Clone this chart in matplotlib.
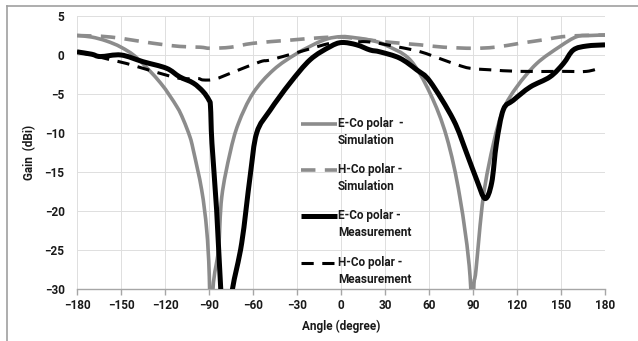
import matplotlib
matplotlib.use("Agg")
import numpy as np
import matplotlib.pyplot as plt
from matplotlib.lines import Line2D
from matplotlib.path import Path
from matplotlib.patches import PathPatch

plt.rcParams["font.family"] = ["Roboto", "DejaVu Sans"]

INK = "#1a1a1a"
GRAY = "#8c8c8c"
GRID = "#dedede"
AXIS = "#a6a6a6"

# E-plane co-polar, simulated
e_sim_angle = [-180, -170, -160, -150, -139, -123, -112, -107.5, -103, -100.7, -95, -91.6,
               -89.8, -88.5, -87.3, -83.6, -81.3, -75.7, -70, -60, -46, -30, -12, 0,
               10, 20, 30, 47, 60.7, 72, 81, 88, 89.5, 90.5, 92, 97, 104, 110.7, 119.8,
               133.4, 149.3, 160.7, 170, 180]
e_sim_gain = [2.5, 2.3, 1.8, 1.0, -0.4, -3.6, -6.6, -8.3, -10.5, -12.2, -17.3, -22.4,
              -28.4, -40, -30, -25, -18.2, -12.6, -8.8, -4.9, -1.9, 0.2, 1.9, 2.35,
              2.2, 1.9, 1.3, -0.6, -4.9, -10.5, -18.2, -28.4, -40, -30, -27.6, -18.2, -11.3, -7,
              -4.1, -1.1, 1.1, 2.35, 2.5, 2.56]

# H-plane co-polar, simulated
h_sim_angle = [-180, -157, -128, -110, -96, -89, -75, -60, -35, -15, 0,
               20, 35, 54, 70, 90, 105, 122, 140, 151, 165, 180]
h_sim_gain = [2.5, 2.3, 1.5, 1.1, 1.0, 0.86, 1.0, 1.5, 1.9, 2.2, 2.3,
              1.9, 1.6, 1.3, 1.0, 0.86, 1.0, 1.5, 2.0, 2.35, 2.5, 2.56]

# E-plane co-polar, measured
e_meas_angle = [-180, -170, -164, -150, -135, -119, -110, -100.7, -94, -90, -89, -88,
                -84.8, -82, -80, -76, -74, -67.7, -62, -57.5, -48.4, -34.8, -21, -7.5,
                0.5, 10.7, 19.8, 26.6, 40, 51.6, 60.7, 76.6, 85.7, 92.5, 98.2, 102.7,
                106, 110.7, 117.5, 129, 142.5, 151.6, 158.4, 167.5, 180]
e_meas_gain = [0.4, 0.1, -0.2, 0, -0.86, -1.7, -2.8, -3.6, -4.7, -5.8, -6.6, -11.3,
               -19.9, -30, -34, -34, -30, -24.1, -15.6, -10, -7.1, -3.6, -0.6, 1.06,
               1.6, 1.3, 0.64, 0.4, -0.4, -1.9, -3.4, -8.3, -12.6, -16, -18.4, -16.4,
               -11.3, -7, -5.8, -4.1, -2.8, -1.1, 0.64, 1.15, 1.3]

# H-plane co-polar, measured
h_meas_angle = [-180, -168, -157.5, -146, -128, -110, -98, -94, -86, -73.5, -55, -48.4,
                -28, -7.5, 0, 17.5, 38, 54, 70, 80, 88, 101.6, 122, 151.6, 167.5, 177.7]
h_meas_gain = [0.4, -0.1, -0.6, -1.1, -2.1, -3.0, -3.0, -3.2, -3.1, -2.2, -0.86, -0.64,
               0.42, 1.5, 1.5, 1.7, 1.06, 0.42, -0.64, -1.3, -1.7, -1.9, -2.1, -2.1, -2.1, -1.6]

x_ticks = list(range(-180, 181, 30))
y_ticks = list(range(-30, 6, 5))

series = [
    ("E-Co polar  -\nSimulation", e_sim_angle, e_sim_gain,
     dict(color=GRAY, lw=2.6, ls="-")),
    ("H-Co polar -\nSimulation", h_sim_angle, h_sim_gain,
     dict(color=GRAY, lw=2.6, ls=(0, (4.0, 2.6)))),
    ("E-Co polar -\nMeasurement", e_meas_angle, e_meas_gain,
     dict(color="black", lw=3.6, ls="-")),
    ("H-Co polar -\nMeasurement", h_meas_angle, h_meas_gain,
     dict(color="black", lw=2.2, ls=(0, (4.0, 2.8)))),
]


def smooth_path(xs, ys):
    """Catmull-Rom through the points, emitted as cubic Bezier segments."""
    p = np.column_stack([xs, ys]).astype(float)
    p = np.vstack([p[0], p, p[-1]])
    verts = [p[1]]
    codes = [Path.MOVETO]
    for i in range(1, len(p) - 2):
        c1 = p[i] + (p[i + 1] - p[i - 1]) / 6.0
        c2 = p[i + 1] - (p[i + 2] - p[i]) / 6.0
        verts += [c1, c2, p[i + 1]]
        codes += [Path.CURVE4] * 3
    return Path(verts, codes)


fig = plt.figure(figsize=(6.38, 3.41), dpi=100)
ax = fig.add_axes([0.1207, 0.1525, 0.8276, 0.8006])

for label, xs, ys, style in series:
    patch = PathPatch(smooth_path(xs, ys), fill=False, edgecolor=style["color"],
                      lw=style["lw"], ls=style["ls"], capstyle="butt", zorder=3)
    ax.add_patch(patch)

ax.set_xlim(-180, 180)
ax.set_ylim(-30, 5)
ax.set_xticks(x_ticks)
ax.set_yticks(y_ticks)
ax.grid(True, color=GRID, lw=0.7, zorder=0)
for side in ("top", "right", "left"):
    ax.spines[side].set_visible(False)
ax.spines["bottom"].set_color(AXIS)
ax.spines["bottom"].set_linewidth(1.0)
ax.tick_params(axis="x", direction="out", length=4, width=1.0, color=AXIS,
               labelsize=8.5, labelcolor=INK, pad=3)
ax.tick_params(axis="y", length=0, labelsize=8.5, labelcolor=INK, pad=9)
for t in ax.get_xticklabels() + ax.get_yticklabels():
    t.set_fontweight("bold")
ax.set_xlabel("Angle (degree)", fontsize=8.5, fontweight="bold", color=INK, labelpad=6)
ax.set_ylabel("Gain  (dBi)", fontsize=8.5, fontweight="bold", color=INK, labelpad=6)

# legend drawn in axes coords so the handle lines up with the first text row
leg_y = [0.604, 0.436, 0.267, 0.095]
for (label, _, _, style), y in zip(series, leg_y):
    ax.add_line(Line2D([0.424, 0.492], [y, y], transform=ax.transAxes,
                       solid_capstyle="butt", dash_capstyle="butt", **style))
    ax.text(0.494, y + 0.026, label, transform=ax.transAxes, fontsize=8.5,
            fontweight="bold", color=INK, ha="left", va="top", linespacing=1.4)

# outer frame (top and left edges only)
fig.add_artist(Line2D([0.011, 1.0], [0.982, 0.982], color="#a0a0a0", lw=1.2))
fig.add_artist(Line2D([0.011, 0.011], [0.0, 0.982], color="#a0a0a0", lw=1.2))

fig.savefig("out.png", dpi=100, facecolor="white")
